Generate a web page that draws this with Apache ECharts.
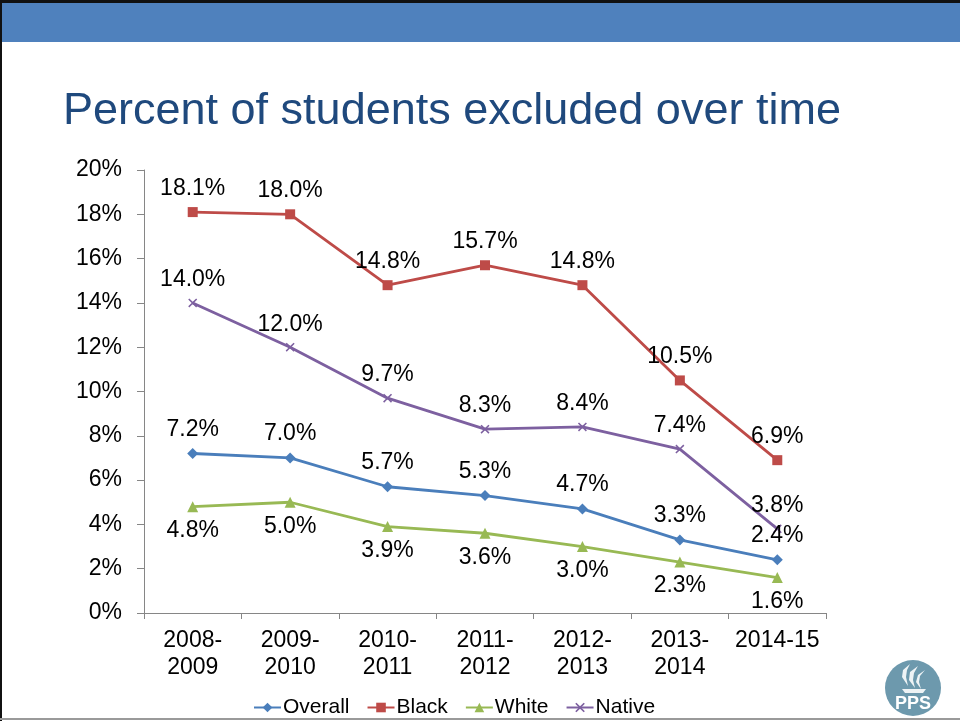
<!DOCTYPE html>
<html>
<head>
<meta charset="utf-8">
<script src="https://cdn.jsdelivr.net/npm/echarts@6/dist/echarts.min.js"></script>
<style>
  html, body { margin: 0; padding: 0; background: #fff; }
  #chart { width: 960px; height: 721px; }
</style>
</head>
<body>
<div id="chart"></div>
<script>
// School years on the x axis
const years = ['2008-\n2009', '2009-\n2010', '2010-\n2011', '2011-\n2012', '2012-\n2013', '2013-\n2014', '2014-15'];

// Percent of students excluded, by group
const overall = [7.2, 7.0, 5.7, 5.3, 4.7, 3.3, 2.4];
const black   = [18.1, 18.0, 14.8, 15.7, 14.8, 10.5, 6.9];
const white   = [4.8, 5.0, 3.9, 3.6, 3.0, 2.3, 1.6];
const native  = [14.0, 12.0, 9.7, 8.3, 8.4, 7.4, 3.8];

// Y axis ticks (percent)
const yTicks = [0, 2, 4, 6, 8, 10, 12, 14, 16, 18, 20];

const FONT = '"Liberation Sans", Arial, sans-serif';
const crossPath = 'path://M0,1.2L1.2,0L5,3.8L8.8,0L10,1.2L6.2,5L10,8.8L8.8,10L5,6.2L1.2,10L0,8.8L3.8,5Z';

function makeSeries(name, data, color, symbol, size, pos) {
  return {
    name: name,
    type: 'line',
    data: data,
    symbol: symbol,
    symbolSize: size,
    lineStyle: { color: color, width: 2.8 },
    itemStyle: { color: color },
    label: {
      show: true,
      position: pos,
      distance: 7,
      formatter: p => p.value.toFixed(1) + '%',
      color: '#000',
      fontFamily: FONT,
      fontSize: 23
    },
    emphasis: { disabled: true },
    animation: false
  };
}

// flame strokes of the logo, as polygons relative to the logo's top-left
const flames = [
  [[25, 4], [18, 10], [17, 17], [23, 26], [21, 17], [22, 10]],
  [[33, 6], [25, 12], [24, 20], [30, 28], [28, 20], [29, 13]],
  [[40, 10], [33, 15], [31, 22], [36, 29], [34, 22], [35, 16]]
];

const logoChildren = [
  { type: 'circle', shape: { cx: 28, cy: 28, r: 28 }, style: { fill: '#6d99ad' } }
].concat(flames.map(pts => ({
  type: 'polygon', shape: { points: pts }, style: { fill: '#eef3f5' }
}))).concat([
  { type: 'polygon', shape: { points: [[17, 29], [41, 29], [38, 33], [20, 33]] }, style: { fill: '#eef3f5' } },
  { type: 'text', x: 28, y: 44, style: { text: 'PPS', align: 'center', verticalAlign: 'middle', fill: '#fff', fontFamily: FONT, fontWeight: 'bold', fontSize: 18 } }
]);

const chart = echarts.init(document.getElementById('chart'), null, { renderer: 'canvas' });

chart.setOption({
  backgroundColor: '#fff',
  animation: false,
  title: {
    text: 'Percent of students excluded over time',
    left: 58,
    top: 84,
    textStyle: { fontFamily: FONT, fontSize: 45, fontWeight: 'normal', color: '#1f497d' }
  },
  legend: {
    left: 248,
    top: 692,
    itemWidth: 27,
    itemHeight: 12,
    itemGap: 17,
    textStyle: { fontFamily: FONT, fontSize: 21, color: '#000', padding: [0, 0, 0, -3] },
    data: ['Overall', 'Black', 'White', 'Native']
  },
  grid: { left: 144, right: 134, top: 170, bottom: 108, containLabel: false },
  xAxis: {
    type: 'category',
    data: years,
    boundaryGap: true,
    axisLine: { lineStyle: { color: '#868686', width: 1 } },
    axisTick: { show: true, length: 6, alignWithLabel: false, lineStyle: { color: '#868686' } },
    axisLabel: { margin: 14, color: '#000', fontFamily: FONT, fontSize: 23, lineHeight: 27, interval: 0 }
  },
  yAxis: {
    type: 'value',
    min: yTicks[0],
    max: yTicks[yTicks.length - 1],
    interval: 2,
    axisLine: { show: true, lineStyle: { color: '#868686', width: 1 } },
    axisTick: { show: true, length: 7, lineStyle: { color: '#868686' } },
    splitLine: { show: false },
    axisLabel: { margin: 22, color: '#000', fontFamily: FONT, fontSize: 23, formatter: v => v + '%' }
  },
  series: [
    makeSeries('Overall', overall, '#4a7ebb', 'diamond', 11, 'top'),
    makeSeries('Black', black, '#be4b48', 'rect', 10, 'top'),
    makeSeries('White', white, '#98b954', 'triangle', 11, 'bottom'),
    makeSeries('Native', native, '#7d60a0', crossPath, 9, 'top')
  ],
  graphic: [
    // banner across the top
    { type: 'rect', shape: { x: 0, y: 0, width: 960, height: 3 }, style: { fill: '#111' }, silent: true },
    { type: 'rect', shape: { x: 0, y: 3, width: 960, height: 39 }, style: { fill: '#4f81bd' }, silent: true },
    // left frame edge and bottom rule
    { type: 'rect', shape: { x: 0, y: 0, width: 2, height: 721 }, style: { fill: '#111' }, silent: true },
    { type: 'rect', shape: { x: 0, y: 718, width: 960, height: 2 }, style: { fill: '#9a9a9a' }, silent: true },
    // PPS logo
    { type: 'group', x: 885, y: 660, silent: true, children: logoChildren }
  ]
});
</script>
</body>
</html>
